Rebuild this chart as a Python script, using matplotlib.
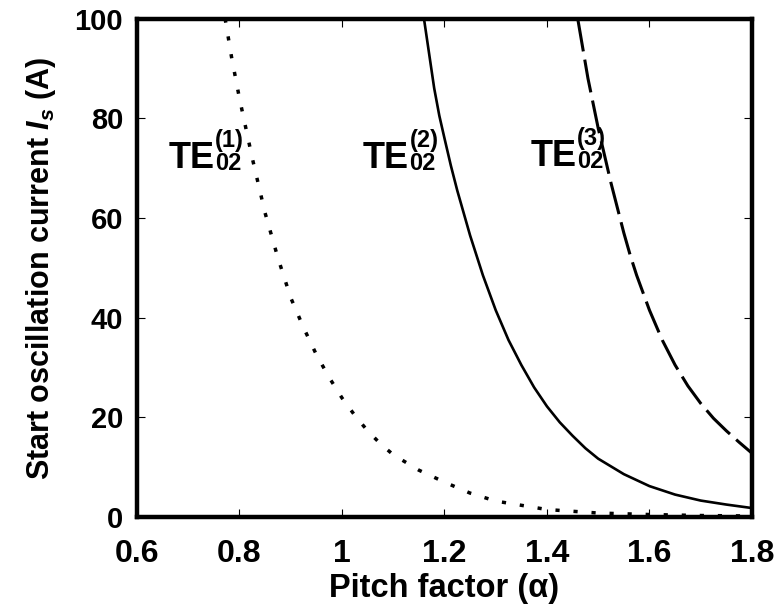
import matplotlib
matplotlib.use("Agg")
import matplotlib.pyplot as plt
from matplotlib.ticker import FuncFormatter

# ---- data ----
alpha_te1 = [0.772, 0.785, 0.8, 0.8125, 0.825, 0.8375, 0.85, 0.8625, 0.875, 0.8875, 0.9, 0.925, 0.95, 0.975,
             1.0, 1.025, 1.05, 1.075, 1.1, 1.15, 1.2, 1.25, 1.3, 1.4, 1.5, 1.6, 1.7, 1.8]
is_te1 = [100, 92, 84, 78, 72, 66.5, 61, 56.5, 52, 48, 44, 38, 32.6, 28, 23.9, 20.4, 17.3, 14.7, 12.5,
          9.4, 7.0, 4.8, 3.2, 1.5, 0.8, 0.5, 0.3, 0.2]

alpha_te2 = [1.16, 1.17, 1.18, 1.19, 1.2, 1.2125, 1.225, 1.2375, 1.25, 1.2625, 1.275, 1.2875, 1.3, 1.325,
             1.35, 1.375, 1.4, 1.425, 1.45, 1.475, 1.5, 1.55, 1.6, 1.65, 1.7, 1.75, 1.8]
is_te2 = [100, 93, 86, 80.5, 76, 70.5, 65.5, 61, 56.5, 52.5, 48.5, 45, 41.5, 35.5,
          30.5, 26, 22.2, 19, 16.3, 13.8, 11.7, 8.6, 6.2, 4.5, 3.3, 2.5, 1.8]

alpha_te3 = [1.46, 1.47, 1.48, 1.49, 1.5, 1.5125, 1.525, 1.5375, 1.55, 1.5625, 1.575, 1.5875, 1.6,
             1.625, 1.65, 1.675, 1.7, 1.725, 1.75, 1.775, 1.8]
is_te3 = [100, 94, 88, 83, 78, 72.5, 67, 62, 57, 52.5, 48.5, 45, 41.5,
          35.5, 30.5, 26.3, 22.8, 19.8, 17.3, 15, 12.8]

mode_main = ["TE", "TE", "TE"]
mode_sub = ["02", "02", "02"]
mode_sup = ["(1)", "(2)", "(3)"]
label_x = [0.662, 1.041, 1.368]
label_y = [70.1, 70.1, 70.4]

x_ticks = [0.6, 0.8, 1.0, 1.2, 1.4, 1.6, 1.8]
y_ticks = [0, 20, 40, 60, 80, 100]

# ---- style ----
plt.rcParams['font.family'] = ['Liberation Sans', 'DejaVu Sans']
plt.rcParams['font.weight'] = 'bold'
plt.rcParams['mathtext.fontset'] = 'custom'
plt.rcParams['mathtext.rm'] = 'Liberation Sans'
plt.rcParams['mathtext.bf'] = 'Liberation Sans:bold'
plt.rcParams['mathtext.it'] = 'Liberation Sans:italic'
plt.rcParams['mathtext.bfit'] = 'Liberation Sans:italic:bold'
plt.rcParams['lines.scale_dashes'] = False

fig = plt.figure(figsize=(7.76, 6.12), dpi=100)
ax = fig.add_axes([0.1765, 0.1552, 0.7925, 0.8145])

ax.plot(alpha_te1, is_te1, color='black', lw=2.5, dashes=(3.0, 10.0), dash_capstyle='butt')
ax.plot(alpha_te2, is_te2, color='black', lw=1.9, solid_joinstyle='round')
ax.plot(alpha_te3, is_te3, color='black', lw=2.2, dashes=(24, 6), dash_capstyle='butt')

for m, sb, sp, xx, yy in zip(mode_main, mode_sub, mode_sup, label_x, label_y):
    te = ax.text(xx, yy, m, fontsize=26, fontweight='bold', ha='left', va='baseline')
    ax.annotate(sb, xy=(1, yy), xycoords=(te, 'data'), xytext=(0.3, -1.5),
                textcoords='offset points', fontsize=17, fontweight='bold',
                ha='left', va='baseline')
    ax.annotate(sp, xy=(1, yy), xycoords=(te, 'data'), xytext=(0.3, 15),
                textcoords='offset points', fontsize=17, fontweight='bold',
                ha='left', va='baseline')

ax.set_xlim(0.6, 1.8)
ax.set_ylim(0, 100)
ax.set_xticks(x_ticks)
ax.set_yticks(y_ticks)
ax.xaxis.set_major_formatter(FuncFormatter(lambda v, p: f"{v:g}"))
ax.tick_params(axis='both', which='major', direction='in', length=6, width=0.8,
               top=True, right=True)
ax.tick_params(axis='x', pad=16, labelsize=23)
ax.tick_params(axis='y', pad=10, labelsize=21)
for lab in ax.get_xticklabels() + ax.get_yticklabels():
    lab.set_fontweight('bold')

for s in ax.spines.values():
    s.set_linewidth(3.2)

ax.set_xlabel("Pitch factor (α)", fontsize=23.5, fontweight='bold', labelpad=3)
ax.set_ylabel(r"Start oscillation current $\mathbfit{I}_{\mathbfit{s}}$ (A)", fontsize=22,
              fontweight='bold', labelpad=12)

fig.savefig("out.png", dpi=100)
